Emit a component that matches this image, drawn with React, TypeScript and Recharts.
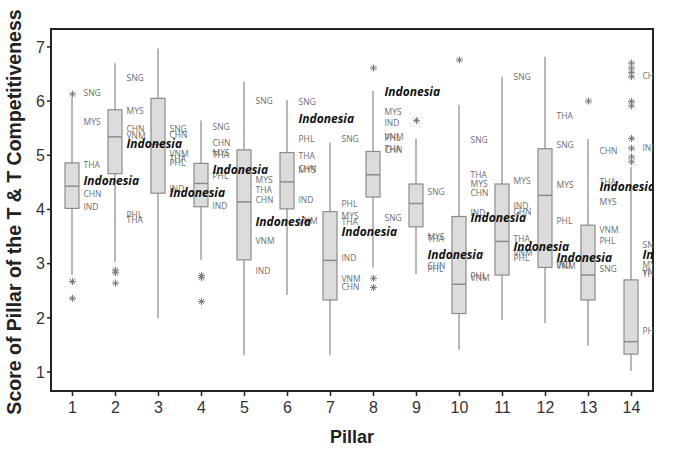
import React from "react";
import { ComposedChart, Bar, Scatter, XAxis, YAxis, ReferenceArea } from "recharts";

// box plot summary per pillar
const pillars = [1, 2, 3, 4, 5, 6, 7, 8, 9, 10, 11, 12, 13, 14];
const whiskerLow = [2.79, 3.03, 1.99, 3.07, 1.31, 2.42, 1.31, 2.93, 2.81, 1.41, 1.96, 1.9, 1.48, 1.02];
const q1 = [4.02, 4.66, 4.3, 4.05, 3.07, 4.01, 2.33, 4.23, 3.68, 2.08, 2.79, 2.93, 2.33, 1.33];
const median = [4.43, 5.34, 5.2, 4.48, 4.14, 4.51, 3.06, 4.64, 4.11, 2.62, 3.41, 4.26, 2.79, 1.56];
const q3 = [4.86, 5.84, 6.05, 4.85, 5.1, 5.05, 3.96, 5.07, 4.47, 3.87, 4.47, 5.12, 3.71, 2.7];
const whiskerHigh = [6.08, 6.7, 6.97, 5.64, 6.36, 6.02, 5.23, 6.19, 5.3, 5.93, 6.45, 6.82, 5.3, 4.79];

// Indonesia's score on each pillar
const indonesia = [4.53, 5.21, 4.3, 4.74, 3.78, 5.67, 3.59, 6.18, 3.16, 3.84, 3.31, 3.1, 4.41, 3.16];

// outliers (asterisks)
const outlierPillar = [1, 1, 1, 2, 2, 2, 4, 4, 4, 8, 8, 8, 9, 10, 13, 14, 14, 14, 14, 14, 14, 14, 14, 14, 14];
const outlierValue = [
  6.13, 2.67, 2.36, 2.88, 2.83, 2.64, 2.78, 2.74, 2.3, 6.61, 2.73, 2.56, 5.64, 6.76, 6.0,
  6.7, 6.61, 6.53, 6.45, 5.99, 5.91, 5.31, 5.13, 4.97, 4.88,
];

// other ASEAN country labels: [pillar, score, code]
const countryLabels: [number, number, string][] = [
  [1, 6.15, "SNG"], [1, 5.62, "MYS"], [1, 4.82, "THA"], [1, 4.29, "CHN"], [1, 4.05, "IND"],
  [2, 6.43, "SNG"], [2, 5.81, "MYS"], [2, 5.49, "CHN"], [2, 5.36, "VNM"], [2, 3.9, "PHL"], [2, 3.8, "THA"],
  [3, 5.48, "SNG"], [3, 5.38, "CHN"], [3, 5.02, "VNM"], [3, 4.93, "THA"], [3, 4.85, "PHL"], [3, 4.38, "IND"],
  [4, 5.52, "SNG"], [4, 5.23, "CHN"], [4, 5.04, "MYS"], [4, 5.01, "THA"], [4, 4.62, "PHL"], [4, 4.07, "IND"],
  [5, 6.01, "SNG"], [5, 4.54, "MYS"], [5, 4.36, "THA"], [5, 4.18, "CHN"], [5, 3.41, "VNM"], [5, 2.87, "IND"],
  [6, 5.99, "SNG"], [6, 5.3, "PHL"], [6, 4.99, "THA"], [6, 4.75, "CHN"], [6, 4.72, "MYS"], [6, 4.18, "IND"], [6, 3.78, "VNM"],
  [7, 5.3, "SNG"], [7, 4.1, "PHL"], [7, 3.87, "MYS"], [7, 3.76, "THA"], [7, 3.1, "IND"], [7, 2.71, "VNM"], [7, 2.56, "CHN"],
  [8, 5.79, "MYS"], [8, 5.6, "IND"], [8, 5.33, "VNM"], [8, 5.31, "PHL"], [8, 5.12, "THA"], [8, 5.1, "CHN"], [8, 3.84, "SNG"],
  [9, 4.33, "SNG"], [9, 3.49, "MYS"], [9, 3.45, "THA"], [9, 2.95, "CHN"], [9, 2.91, "PHL"],
  [10, 5.28, "SNG"], [10, 4.64, "THA"], [10, 4.47, "MYS"], [10, 4.3, "CHN"], [10, 3.94, "IND"], [10, 2.78, "PHL"], [10, 2.74, "VNM"],
  [11, 6.45, "SNG"], [11, 4.53, "MYS"], [11, 4.07, "IND"], [11, 3.96, "CHN"], [11, 3.45, "THA"], [11, 3.2, "VNM"], [11, 3.1, "PHL"],
  [12, 5.73, "THA"], [12, 5.19, "SNG"], [12, 4.45, "MYS"], [12, 3.79, "PHL"], [12, 2.98, "IND"], [12, 2.95, "VNM"],
  [13, 5.07, "CHN"], [13, 4.51, "THA"], [13, 4.13, "MYS"], [13, 3.62, "VNM"], [13, 3.41, "PHL"], [13, 2.9, "SNG"],
  [14, 6.46, "CHN"], [14, 5.13, "IND"], [14, 3.34, "SNG"], [14, 2.98, "MYS"], [14, 2.84, "VNM"], [14, 2.81, "THA"], [14, 1.75, "PHL"],
];

const yTicks = [1, 2, 3, 4, 5, 6, 7];

const boxData = pillars.map((p, i) => ({
  pillar: p,
  low: whiskerLow[i],
  q1: q1[i],
  median: median[i],
  q3: q3[i],
  high: whiskerHigh[i],
}));
const outlierData = outlierPillar.map((p, i) => ({ pillar: p, value: outlierValue[i] }));
const labelData = countryLabels.map(([p, v, code]) => ({ pillar: p, value: v, code }));
const indoData = pillars.map((p, i) => ({ pillar: p, value: indonesia[i] }));

const BOX_FILL = "#dcdcdc";
const BOX_STROKE = "#8c8c8c";
const WHISKER = "#a0a0a0";

// whisker + box + median, positioned from the bar's own [low, high] geometry
const BoxShape = (props: any) => {
  const { x, y, width, height, payload } = props;
  const top = Math.min(y, y + height);
  const h = Math.abs(height);
  const { low, high } = payload;
  const py = (v: number) => top + ((high - v) / (high - low)) * h;
  const cx = x + width / 2;
  return (
    <g>
      <line x1={cx} x2={cx} y1={top} y2={top + h} stroke={WHISKER} strokeWidth={1.5} />
      <rect
        x={x}
        y={py(payload.q3)}
        width={width}
        height={py(payload.q1) - py(payload.q3)}
        fill={BOX_FILL}
        stroke={BOX_STROKE}
        strokeWidth={1.2}
      />
      <line x1={x} x2={x + width} y1={py(payload.median)} y2={py(payload.median)} stroke={BOX_STROKE} strokeWidth={1.5} />
    </g>
  );
};

const Asterisk = (props: any) => {
  const { cx, cy } = props;
  const r = 3.5;
  const d = r * 0.72;
  return (
    <g stroke="#7a7a7a" strokeWidth={1}>
      <line x1={cx - r} x2={cx + r} y1={cy} y2={cy} />
      <line x1={cx} x2={cx} y1={cy - r} y2={cy + r} />
      <line x1={cx - d} x2={cx + d} y1={cy - d} y2={cy + d} />
      <line x1={cx - d} x2={cx + d} y1={cy + d} y2={cy - d} />
    </g>
  );
};

const CodeLabel = (props: any) => (
  <text
    x={props.cx + 11}
    y={props.cy}
    dy="0.35em"
    fontSize={8.5}
    fontFamily="'Open Sans', sans-serif"
    fill="#6e6e6e"
  >
    {props.payload.code}
  </text>
);

const IndoLabel = (props: any) => (
  <text
    x={props.cx + 11}
    y={props.cy}
    dy="0.35em"
    fontSize={12}
    fontWeight="bold"
    fontStyle="italic"
    fontFamily="'Open Sans', sans-serif"
    fill="#111"
  >
    Indonesia
  </text>
);

const tickStyle = { fontSize: 16, fill: "#333", fontFamily: "'Liberation Sans', Arial, sans-serif" };

export default function App() {
  return (
    <div style={{ position: "absolute", left: 0, top: 0, width: 686, height: 449, background: "#fff" }}>
      <ComposedChart width={686} height={449} data={boxData} margin={{ top: 29, right: 33, bottom: 28, left: 0 }}>
        <XAxis
          dataKey="pillar"
          type="number"
          domain={[0.5, 14.5]}
          ticks={pillars}
          interval={0}
          allowDataOverflow
          height={30}
          tick={tickStyle}
          tickSize={5}
          tickMargin={6}
          axisLine={{ stroke: "#222", strokeWidth: 2 }}
          tickLine={{ stroke: "#222", strokeWidth: 1.5 }}
          label={{
            value: "Pillar",
            position: "bottom",
            offset: 9,
            style: { fontSize: 18, fontWeight: "bold", fill: "#222", fontFamily: "'Liberation Sans', Arial, sans-serif" },
          }}
        />
        <YAxis
          type="number"
          domain={[0.65, 7.33]}
          ticks={yTicks}
          interval={0}
          allowDataOverflow
          width={51}
          tick={tickStyle}
          tickSize={4}
          axisLine={{ stroke: "#222", strokeWidth: 2 }}
          tickLine={{ stroke: "#222", strokeWidth: 1.5 }}
          label={{
            content: () => (
              <text
                x={14}
                y={212}
                transform="rotate(-90 14 212)"
                textAnchor="middle"
                dominantBaseline="central"
                fontSize={19.5}
                fontWeight="bold"
                fill="#222"
                fontFamily="'Liberation Sans', Arial, sans-serif"
              >
                Score of Pillar of the T &amp; T Competitiveness
              </text>
            ),
          }}
        />
        <ReferenceArea x1={0.5} x2={14.5} y1={0.65} y2={7.33} fill="none" stroke="#222" strokeWidth={2} />
        <Bar dataKey={(d: any) => [d.low, d.high]} barSize={14} shape={BoxShape} isAnimationActive={false} />
        <Scatter data={outlierData} dataKey="value" shape={Asterisk} isAnimationActive={false} />
        <Scatter data={labelData} dataKey="value" shape={CodeLabel} isAnimationActive={false} />
        <Scatter data={indoData} dataKey="value" shape={IndoLabel} isAnimationActive={false} />
      </ComposedChart>
    </div>
  );
}
